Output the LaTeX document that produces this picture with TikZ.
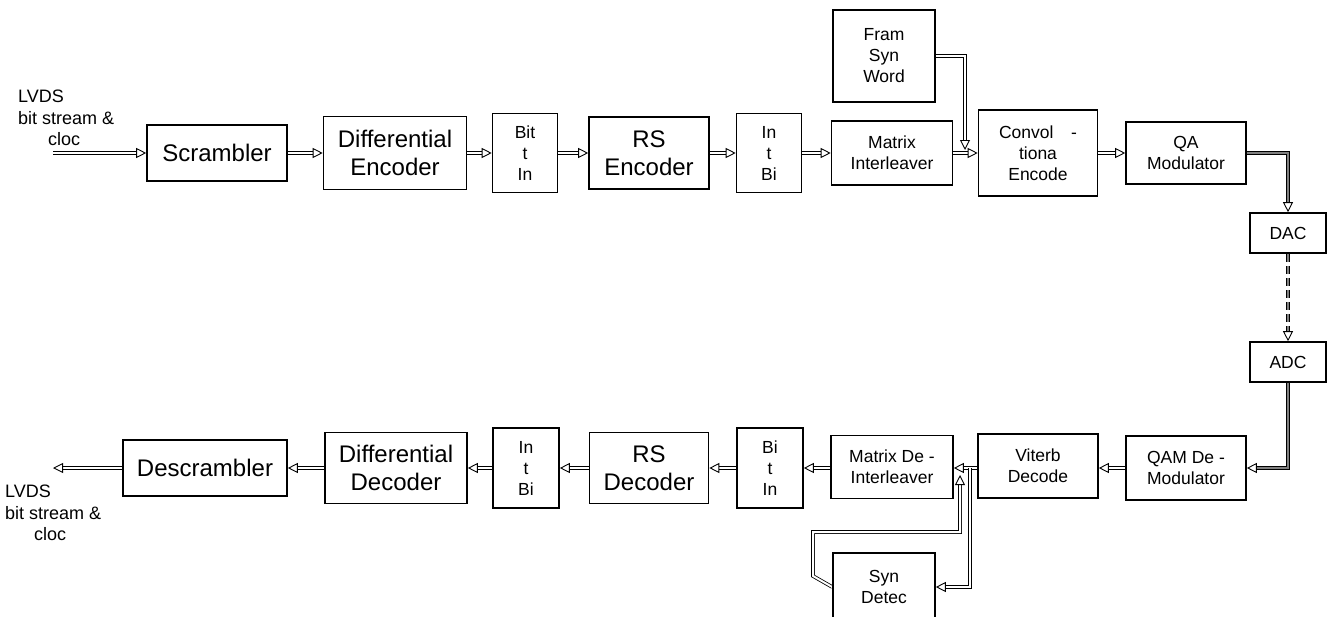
\documentclass[tikz,border=0pt]{standalone}
\usepackage{fontspec}
\setmainfont{Liberation Sans}
\usepackage{tikz}
\usetikzlibrary{arrows.meta}
\pgfdeclarelayer{edgelayer}
\pgfdeclarelayer{nodelayer}
\pgfsetlayers{edgelayer,nodelayer,main}
\tikzstyle{none}=[inner sep=0pt]
\tikzstyle{big block}=[draw, line width=1.6pt, fill=white, align=center, inner sep=2pt, font=\fontsize{24}{28}\selectfont]
\tikzstyle{small block}=[draw, line width=1.6pt, fill=white, align=center, inner sep=2pt, font=\fontsize{17.5}{21}\selectfont]
\tikzstyle{io}=[align=left, inner sep=0pt, font=\fontsize{18}{21.5}\selectfont]
\tikzstyle{flow}=[double, double distance=2pt, line width=0.8pt, -{Triangle[open, length=10pt, width=10pt, line width=0.9pt]}]
\tikzstyle{thick flow}=[flow, double=gray, double distance=2.6pt]
\tikzstyle{link}=[double, double distance=2pt, line width=0.8pt]

\begin{document}
\begin{tikzpicture}[x=1pt, y=-1pt]
	\useasboundingbox (0,0) rectangle (1333,616);
	\begin{pgfonlayer}{nodelayer}
		\node [style=io, anchor=west] (0) at (18, 118) {LVDS\\bit stream \&\\\hspace*{30pt}cloc};
		\coordinate (1) at (53, 153);
		\node [style=big block, minimum width=140pt, minimum height=56pt] (2) at (217, 153) {Scrambler};
		\node [style=big block, minimum width=143pt, minimum height=73pt] (3) at (395, 153) {Differential\\Encoder};
		\node [style=small block, minimum width=65pt, minimum height=79pt] (4) at (525, 153) {Bit\\t\\In};
		\node [style=big block, minimum width=120pt, minimum height=72pt] (5) at (649, 153) {RS\\Encoder};
		\node [style=small block, minimum width=65pt, minimum height=79pt] (6) at (769, 153) {In\\t\\Bi};
		\node [style=small block, minimum width=121pt, minimum height=64pt] (7) at (892, 153) {Matrix\\Interleaver};
		\node [style=small block, minimum width=102pt, minimum height=92pt] (8) at (884, 56) {Fram\\Syn\\Word};
		\coordinate (9) at (965, 150);
		\node [style=small block, minimum width=119pt, minimum height=86pt] (10) at (1038, 153) {Convol\quad -\\tiona\\Encode};
		\node [style=small block, minimum width=120pt, minimum height=62pt] (11) at (1186, 153) {QA\\Modulator};
		\node [style=small block, minimum width=76pt, minimum height=40pt] (12) at (1288, 233) {DAC};
		\node [style=small block, minimum width=76pt, minimum height=40pt] (13) at (1288, 362) {ADC};
		\node [style=small block, minimum width=120pt, minimum height=64pt] (14) at (1186, 468) {QAM De -\\Modulator};
		\node [style=small block, minimum width=120pt, minimum height=64pt] (15) at (1038, 466) {Viterb\\Decode};
		\node [style=small block, minimum width=122pt, minimum height=63pt] (16) at (892, 467) {Matrix De -\\Interleaver};
		\coordinate (17) at (970, 468);
		\node [style=small block, minimum width=102pt, minimum height=68pt] (18) at (884, 587) {Syn\\Detec};
		\coordinate (19) at (813, 576);
		\coordinate (20) at (813, 532);
		\coordinate (21) at (960, 475);
		\node [style=small block, minimum width=66pt, minimum height=80pt] (22) at (770, 468) {Bi\\t\\In};
		\node [style=big block, minimum width=119pt, minimum height=71pt] (23) at (649, 468) {RS\\Decoder};
		\node [style=small block, minimum width=66pt, minimum height=80pt] (24) at (526, 468) {In\\t\\Bi};
		\node [style=big block, minimum width=142pt, minimum height=71pt] (25) at (396, 468) {Differential\\Decoder};
		\node [style=big block, minimum width=164pt, minimum height=56pt] (26) at (205, 468) {Descrambler};
		\coordinate (27) at (53, 468);
		\node [style=io, anchor=west] (28) at (5, 513) {LVDS\\bit stream \&\\\hspace*{29pt}cloc};
	\end{pgfonlayer}
	\begin{pgfonlayer}{edgelayer}
		\draw [style=flow] (1) to (2.west);
		\draw [style=flow] (2.east) to (3.west);
		\draw [style=flow] (3.east) to (4.west);
		\draw [style=flow] (4.east) to (5.west);
		\draw [style=flow] (5.east) to (6.west);
		\draw [style=flow] (6.east) to (7.west);
		\draw [style=flow] (7.east) to (10.west);
		\draw [style=flow] (8.east) -| (9);
		\draw [style=flow] (10.east) to (11.west);
		\draw [style=thick flow] (11.east) -| (12.north);
		\draw [style=thick flow, dash pattern=on 8pt off 4pt] (12.south) to (13.north);
		\draw [style=thick flow] (13.south) |- (14.east);
		\draw [style=flow] (14.west) to (14.west -| 15.east);
		\draw [style=flow] (14.west -| 15.west) to (14.west -| 16.east);
		\draw [style=flow] (17) |- (18.east);
		\draw [style=flow] (18.west) -- (19) -- (20) -| (21);
		\draw [style=flow] (14.west -| 16.west) to (14.west -| 22.east);
		\draw [style=flow] (22.west) to (23.east);
		\draw [style=flow] (23.west) to (24.east);
		\draw [style=flow] (24.west) to (25.east);
		\draw [style=flow] (25.west) to (26.east);
		\draw [style=flow] (26.west) to (27);
	\end{pgfonlayer}
\end{tikzpicture}
\end{document}
